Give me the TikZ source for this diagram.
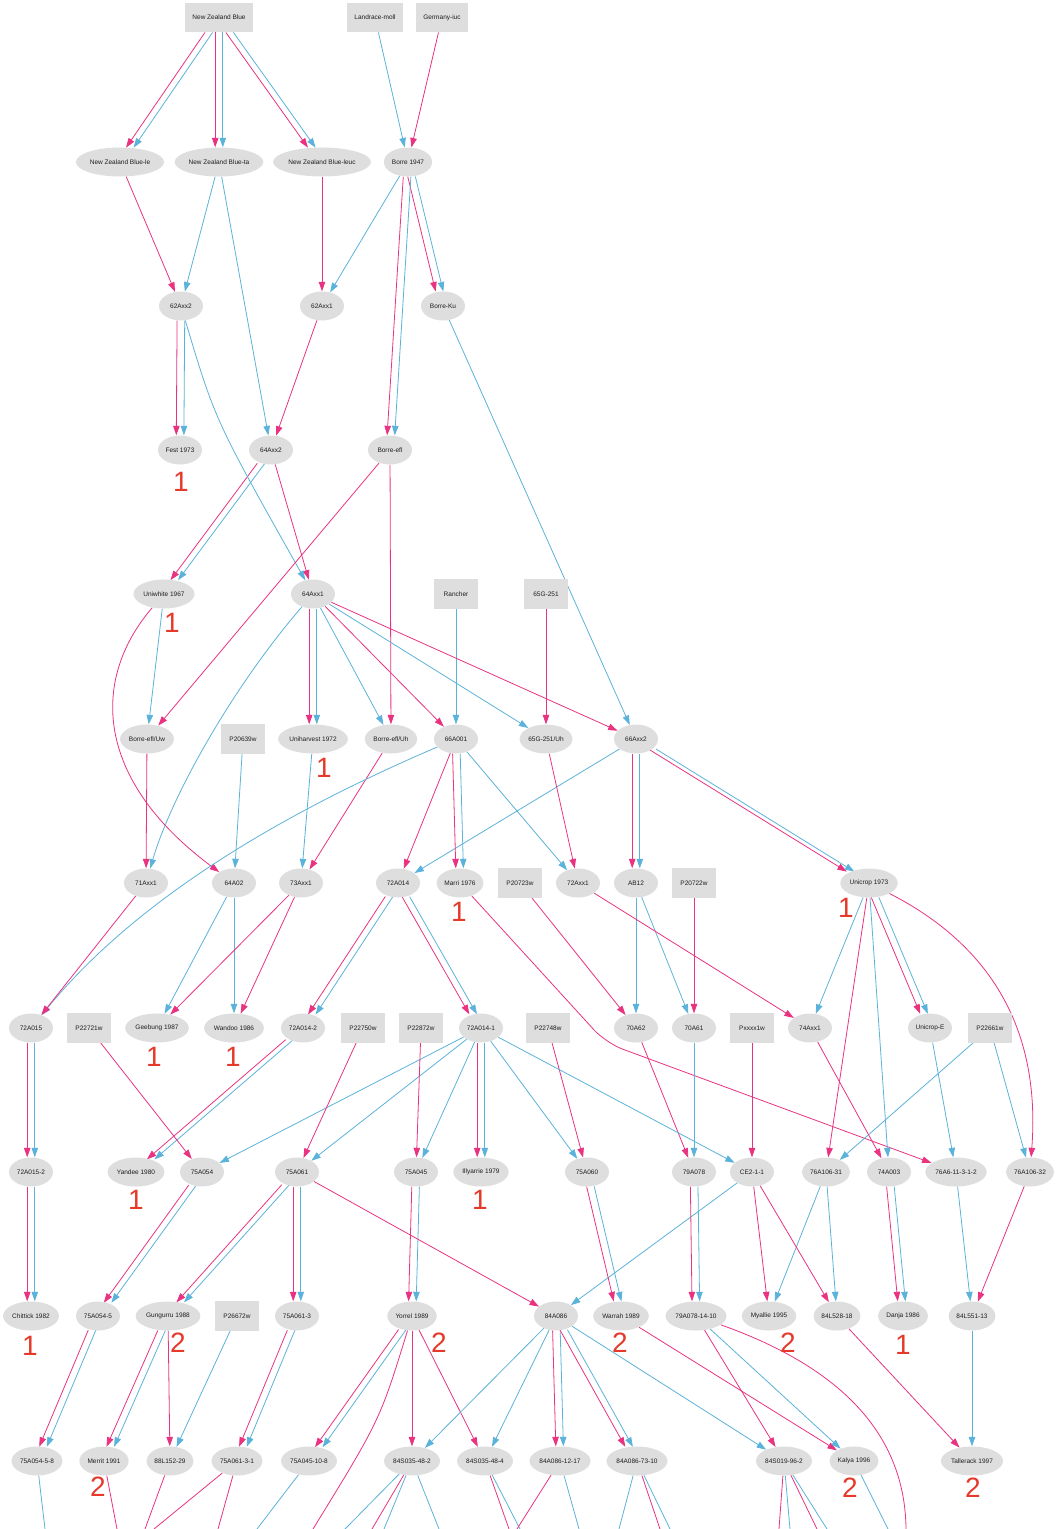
\documentclass[tikz,border=0pt]{standalone}
\usepackage{fontspec}
\setmainfont{Liberation Sans}
\usetikzlibrary{shapes.geometric,arrows.meta}
\definecolor{pinkc}{RGB}{233,50,128}
\definecolor{bluec}{RGB}{91,178,218}
\definecolor{nodefill}{RGB}{222,222,222}
\definecolor{redc}{RGB}{229,57,42}
\definecolor{txtc}{RGB}{30,30,30}
\pgfdeclarelayer{bg}
\pgfsetlayers{bg,main}
\newcommand\EdP[2]{\draw[pk] (#1) -- (#2);}
\newcommand\EdB[2]{\draw[bl] (#1) -- (#2);}
\newcommand\EdPB[2]{\draw[pk,transform canvas={xshift=-3.8pt}] (#1) -- (#2);\draw[bl,transform canvas={xshift=3.8pt}] (#1) -- (#2);}
\begin{document}
\begin{tikzpicture}[x=1pt,y=-1pt,
 el/.style={ellipse, fill=nodefill, minimum width=44pt, minimum height=29pt, inner xsep=1pt, inner ysep=0.5pt, font=\fontsize{6.5}{7.5}\selectfont, text=txtc},
 bx/.style={rectangle, fill=nodefill, minimum width=44pt, minimum height=29.5pt, inner xsep=7.5pt, font=\fontsize{6.5}{7.5}\selectfont, text=txtc},
 num/.style={font=\fontsize{28}{30}\selectfont, text=redc, inner sep=0pt},
 pk/.style={draw=pinkc, line width=0.8pt, -{Triangle[length=9.5pt,width=6.5pt]}},
 bl/.style={draw=bluec, line width=0.8pt, -{Triangle[length=9.5pt,width=6.5pt]}},
 pkf/.style={draw=pinkc, line width=0.8pt},
 blf/.style={draw=bluec, line width=0.8pt}]
\useasboundingbox (0,0) rectangle (1059,1529);
% row 1
\node[bx] (nzb) at (219,17.5) {New Zealand Blue};
\node[bx] (landrace) at (375,17.5) {Landrace-moll};
\node[bx] (germany) at (442,17.5) {Germany-iuc};
% row 2
\node[el] (nzble) at (120,162) {New Zealand Blue-le};
\node[el] (nzbta) at (219,162) {New Zealand Blue-ta};
\node[el] (nzbleuc) at (322,162) {New Zealand Blue-leuc};
\node[el] (borre) at (408,162) {Borre 1947};
% row 3
\node[el] (a62x2) at (181,306) {62Axx2};
\node[el] (a62x1) at (322,306) {62Axx1};
\node[el] (borreku) at (443,306) {Borre-Ku};
% row 4
\node[el] (fest) at (180,450) {Fest 1973};
\node[el] (a64x2) at (271,450) {64Axx2};
\node[el] (borreefl) at (390,450) {Borre-efl};
% row 5
\node[el] (uniwhite) at (164,594) {Uniwhite 1967};
\node[el] (a64x1) at (313,594) {64Axx1};
\node[bx] (rancher) at (456,594) {Rancher};
\node[bx] (g65) at (546,594) {65G-251};
% row 6
\node[el] (uw) at (147,739) {Borre-efl/Uw};
\node[bx] (p20639) at (243,739) {P20639w};
\node[el] (uniharvest) at (313,739) {Uniharvest 1972};
\node[el] (uh) at (391,739) {Borre-efl/Uh};
\node[el] (a66001) at (456,739) {66A001};
\node[el] (g65uh) at (546,739) {65G-251/Uh};
\node[el] (a66x2) at (636,739) {66Axx2};
% row 7
\node[el] (a71x1) at (146,883) {71Axx1};
\node[el] (a64a02) at (234,883) {64A02};
\node[el] (a73x1) at (301,883) {73Axx1};
\node[el] (a72014) at (398,883) {72A014};
\node[el] (marri) at (460,883) {Marri 1976};
\node[bx] (p20723) at (520,883) {P20723w};
\node[el] (a72x1) at (578,883) {72Axx1};
\node[el] (ab12) at (636,883) {AB12};
\node[bx] (p20722) at (694,883) {P20722w};
\node[el] (unicrop) at (869,883) {Unicrop 1973};
% row 8
\node[el] (a72015) at (31,1028) {72A015};
\node[bx] (p22721) at (89,1028) {P22721w};
\node[el] (geebung) at (157,1028) {Geebung 1987};
\node[el] (wandoo) at (234,1028) {Wandoo 1986};
\node[el] (a72014b) at (303,1028) {72A014-2};
\node[bx] (p22750) at (363,1028) {P22750w};
\node[bx] (p22872) at (421,1028) {P22872w};
\node[el] (a72014a) at (481,1028) {72A014-1};
\node[bx] (p22748) at (548,1028) {P22748w};
\node[el] (a70a62) at (636,1028) {70A62};
\node[el] (a70a61) at (694,1028) {70A61};
\node[bx] (pxxxx) at (752,1028) {Pxxxx1w};
\node[el] (a74x1) at (810,1028) {74Axx1};
\node[el] (unicrope) at (930,1028) {Unicrop-E};
\node[bx] (p22661) at (990,1028) {P22661w};
% row 9
\node[el] (a72015b) at (31,1172) {72A015-2};
\node[el] (yandee) at (136,1172) {Yandee 1980};
\node[el] (a75054) at (202,1172) {75A054};
\node[el] (a75061) at (297,1172) {75A061};
\node[el] (a75045) at (416,1172) {75A045};
\node[el] (illyarrie) at (481,1172) {Illyarrie 1979};
\node[el] (a75060) at (587,1172) {75A060};
\node[el] (a79078) at (694,1172) {79A078};
\node[el] (ce) at (752,1172) {CE2-1-1};
\node[el] (a76106b) at (826,1172) {76A106-31};
\node[el] (a74003) at (889,1172) {74A003};
\node[el] (a76a6) at (956,1172) {76A6-11-3-1-2};
\node[el] (a76106c) at (1030,1172) {76A106-32};
% row 10
\node[el] (chittick) at (31,1316) {Chittick 1982};
\node[el] (a75054b) at (98,1316) {75A054-5};
\node[el] (gungurru) at (168,1316) {Gungurru 1988};
\node[bx] (p26672) at (237,1316) {P26672w};
\node[el] (a75061b) at (297,1316) {75A061-3};
\node[el] (yorrel) at (412,1316) {Yorrel 1989};
\node[el] (a84086) at (556,1316) {84A086};
\node[el] (warrah) at (621,1316) {Warrah 1989};
\node[el] (a79078b) at (696,1316) {79A078-14-10};
\node[el] (myallie) at (769,1316) {Myallie 1995};
\node[el] (a84l528) at (837,1316) {84L528-18};
\node[el] (danja) at (903,1316) {Danja 1986};
\node[el] (a84l551) at (972,1316) {84L551-13};
% row 11
\node[el] (a750548) at (37,1461) {75A054-5-8};
\node[el] (merrit) at (104,1461) {Merrit 1991};
\node[el] (a88l) at (170,1461) {88L152-29};
\node[el] (a750613) at (237,1461) {75A061-3-1};
\node[el] (a750451) at (309,1461) {75A045-10-8};
\node[el] (s482) at (412,1461) {84S035-48-2};
\node[el] (s484) at (485,1461) {84S035-48-4};
\node[el] (a8612) at (560,1461) {84A086-12-17};
\node[el] (a8673) at (637,1461) {84A086-73-10};
\node[el] (s019) at (784,1461) {84S019-96-2};
\node[el] (kalya) at (854,1461) {Kalya 1996};
\node[el] (tallerack) at (972,1461) {Tallerack 1997};
% red numbers
\node[num] (nfest) at (181,482) {1};
\node[num] (nuniwhite) at (172,623) {1};
\node[num] (nuniharvest) at (324,768) {1};
\node[num] (nmarri) at (459,912) {1};
\node[num] (nunicrop) at (846,908) {1};
\node[num] (ngeebung) at (154,1057) {1};
\node[num] (nwandoo) at (233,1057) {1};
\node[num] (nyandee) at (136,1200) {1};
\node[num] (nillyarrie) at (480,1200) {1};
\node[num] (nchittick) at (30,1346) {1};
\node[num] (ngungurru) at (178,1343) {2};
\node[num] (nyorrel) at (439,1343) {2};
\node[num] (nwarrah) at (620,1343) {2};
\node[num] (nmyallie) at (788,1343) {2};
\node[num] (ndanja) at (903,1345) {1};
\node[num] (nmerrit) at (98,1487) {2};
\node[num] (nkalya) at (850,1488) {2};
\node[num] (ntallerack) at (973,1488) {2};
% free ends at the lower edge
\coordinate (o1) at (45,1529);
\coordinate (o2) at (117,1529);
\coordinate (o3) at (145,1529);
\coordinate (o4) at (154,1529);
\coordinate (o5) at (218,1529);
\coordinate (o6) at (257,1529);
\coordinate (o7) at (313,1529);
\coordinate (o8) at (345,1529);
\coordinate (o9) at (372,1529);
\coordinate (o10) at (384,1529);
\coordinate (o11) at (439,1529);
\coordinate (o12) at (509,1529);
\coordinate (o13) at (520,1529);
\coordinate (o14) at (517,1529);
\coordinate (o15) at (579,1529);
\coordinate (o16) at (619,1529);
\coordinate (o17) at (660,1529);
\coordinate (o18) at (670,1529);
\coordinate (o19) at (779,1529);
\coordinate (o20) at (790,1529);
\coordinate (o21) at (817,1529);
\coordinate (o22) at (827,1529);
\coordinate (o23) at (888,1529);
\coordinate (o24) at (906,1529);
\begin{pgfonlayer}{bg}
% row 1 -> 2
\EdPB{nzb}{nzble}
\EdPB{nzb}{nzbta}
\EdPB{nzb}{nzbleuc}
\EdB{landrace}{borre}
\EdP{germany}{borre}
% row 2 -> 3
\EdP{nzble}{a62x2}
\EdB{nzbta}{a62x2}
\EdP{nzbleuc}{a62x1}
\EdB{borre}{a62x1}
\EdPB{borre}{borreku}
% row 3 -> 4
\EdPB{a62x2}{fest}
\EdB{nzbta}{a64x2}
\EdP{a62x1}{a64x2}
\EdPB{borre}{borreefl}
% row 4 -> 5
\EdPB{a64x2}{uniwhite}
\EdP{a64x2}{a64x1}
\draw[bl] (a62x2) .. controls (215,420) .. (a64x1);
% row 5 -> 6
\EdB{uniwhite}{uw}
\EdP{borreefl}{uw}
\EdPB{a64x1}{uniharvest}
\EdB{a64x1}{uh}
\EdP{borreefl}{uh}
\EdP{a64x1}{a66001}
\EdB{rancher}{a66001}
\EdB{a64x1}{g65uh}
\EdP{g65}{g65uh}
\EdP{a64x1}{a66x2}
\EdB{borreku}{a66x2}
\draw[bl] (a64x1) .. controls (230,690) and (170,800) .. (a71x1);
\draw[pk] (uniwhite) .. controls (90,680) and (95,780) .. (a64a02);
% row 6 -> 7
\EdP{uw}{a71x1}
\EdB{p20639}{a64a02}
\EdB{uniharvest}{a73x1}
\EdP{uh}{a73x1}
\EdP{a66001}{a72014}
\EdB{a66x2}{a72014}
\EdPB{a66001}{marri}
\EdB{a66001}{a72x1}
\EdP{g65uh}{a72x1}
\EdPB{a66x2}{ab12}
\EdPB{a66x2}{unicrop}
\draw[bl] (a66001) .. controls (290,810) and (140,895) .. (a72015);
% row 7 -> 8
\EdP{a71x1}{a72015}
\EdB{a64a02}{geebung}
\EdB{a64a02}{wandoo}
\EdP{a73x1}{geebung}
\EdP{a73x1}{wandoo}
\EdPB{a72014}{a72014b}
\EdPB{a72014}{a72014a}
\EdP{p20723}{a70a62}
\EdB{ab12}{a70a62}
\EdB{ab12}{a70a61}
\EdP{p20722}{a70a61}
\EdP{a72x1}{a74x1}
\EdB{unicrop}{a74x1}
\EdPB{unicrop}{unicrope}
\draw[pk, rounded corners=18pt] (marri) -- (606,1043) -- (a76a6);
\EdP{unicrop}{a76106b}
\EdB{unicrop}{a74003}
\draw[pk] (unicrop) .. controls (1000,950) and (1040,1040) .. (a76106c);
% row 8 -> 9
\EdPB{a72015}{a72015b}
\EdPB{a72014b}{yandee}
\EdP{p22721}{a75054}
\EdB{a72014a}{a75054}
\EdP{p22750}{a75061}
\EdB{a72014a}{a75061}
\EdP{p22872}{a75045}
\EdB{a72014a}{a75045}
\EdPB{a72014a}{illyarrie}
\EdB{a72014a}{a75060}
\EdP{p22748}{a75060}
\EdP{a70a62}{a79078}
\EdB{a70a61}{a79078}
\EdB{a72014a}{ce}
\EdP{pxxxx}{ce}
\EdB{p22661}{a76106b}
\EdP{a74x1}{a74003}
\EdB{unicrope}{a76a6}
\EdB{p22661}{a76106c}
% row 9 -> 10
\EdPB{a72015b}{chittick}
\EdPB{a75054}{a75054b}
\EdPB{a75061}{gungurru}
\EdPB{a75061}{a75061b}
\EdPB{a75045}{yorrel}
\EdP{a75061}{a84086}
\EdB{ce}{a84086}
\EdPB{a75060}{warrah}
\EdPB{a79078}{a79078b}
\EdP{ce}{myallie}
\EdB{a76106b}{myallie}
\EdP{ce}{a84l528}
\EdB{a76106b}{a84l528}
\EdPB{a74003}{danja}
\EdB{a76a6}{a84l551}
\EdP{a76106c}{a84l551}
% row 10 -> 11
\EdPB{a75054b}{a750548}
\EdPB{gungurru}{merrit}
\EdP{gungurru}{a88l}
\EdB{p26672}{a88l}
\EdPB{a75061b}{a750613}
\EdPB{yorrel}{a750451}
\EdP{yorrel}{s482}
\EdP{yorrel}{s484}
\EdB{a84086}{s482}
\EdB{a84086}{s484}
\EdPB{a84086}{a8612}
\EdPB{a84086}{a8673}
\EdB{a84086}{s019}
\EdP{a79078b}{s019}
\EdP{warrah}{kalya}
\EdB{a79078b}{kalya}
\EdP{a84l528}{tallerack}
\EdB{a84l551}{tallerack}
% row 11 -> beyond the lower edge
\draw[blf] (a750548) -- (o1);
\draw[pkf] (merrit) -- (o2);
\draw[pkf] (a88l) -- (o3);
\draw[pkf] (a750613) -- (o4);
\draw[pkf] (a750613) -- (o5);
\draw[blf] (a750451) -- (o6);
\draw[pkf] (yorrel) .. controls (380,1420) .. (o7);
\draw[blf] (s482) -- (o8);
\draw[pkf] (s482) -- (o9);
\draw[blf] (s482) -- (o10);
\draw[blf] (s482) -- (o11);
\draw[pkf] (s484) -- (o12);
\draw[blf] (s484) -- (o13);
\draw[pkf] (a8612) -- (o14);
\draw[blf] (a8612) -- (o15);
\draw[blf] (a8673) -- (o16);
\draw[pkf] (a8673) -- (o17);
\draw[blf] (a8673) -- (o18);
\draw[pkf] (s019) -- (o19);
\draw[blf] (s019) -- (o20);
\draw[pkf] (s019) -- (o21);
\draw[blf] (s019) -- (o22);
\draw[blf] (kalya) -- (o23);
\draw[pkf] (a79078b) .. controls (820,1360) and (905,1420) .. (o24);
\end{pgfonlayer}
\end{tikzpicture}
\end{document}
